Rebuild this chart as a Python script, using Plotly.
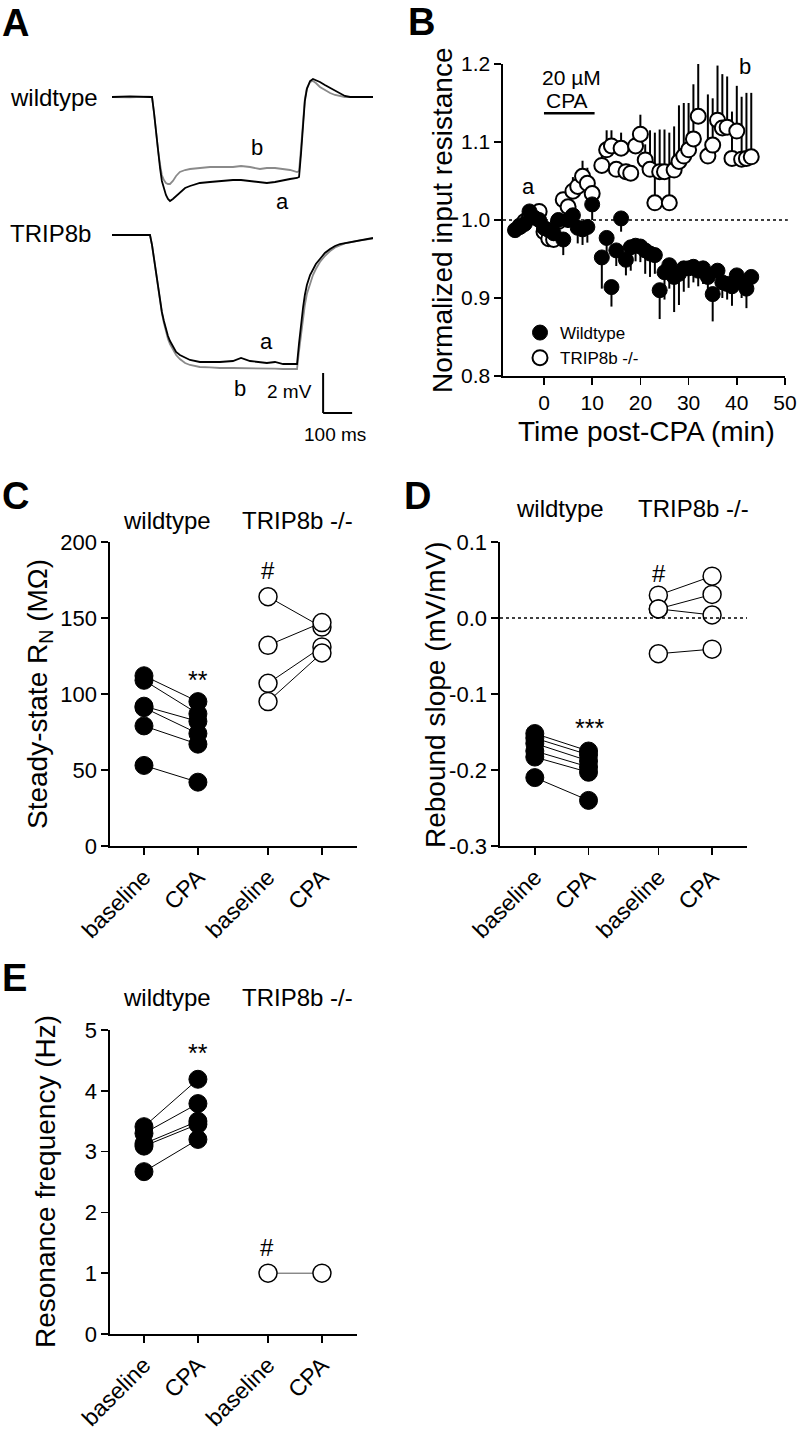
import plotly.graph_objects as go

W, H = 797, 1431
FONT = "Liberation Sans, Arial, sans-serif"

# ---------------- DATA ----------------
# Panel A: membrane-potential traces (time in ms, voltage in mV relative to baseline)
trace_t_ms = [0, 62, 131, 138, 145, 152, 159, 166, 172, 179, 186, 193, 200, 210, 221, 234, 252, 269,
              303, 338, 372, 417, 445, 476, 510, 534, 562, 590, 614, 638, 645, 652, 659, 665, 672,
              683, 693, 703, 717, 734, 752, 769, 786, 803, 821, 855, 900]
wt_a_mv = [0.0, 0.03, 0.0, 0.0, -0.8, -1.8, -2.8, -3.6, -4.2, -4.6, -4.9, -5.1, -5.2, -5.1, -4.95, -4.75,
           -4.55, -4.45, -4.3, -4.25, -4.2, -4.15, -4.15, -4.2, -4.25, -4.3, -4.25, -4.15, -4.1, -4.05,
           -4.0, -2.8, -1.2, -0.2, 0.4, 0.8, 0.9, 0.85, 0.75, 0.6, 0.45, 0.3, 0.15, 0.05, 0.0, 0.0, 0.0]
wt_b_mv = [0.0, -0.02, 0.02, 0.0, -0.8, -1.8, -2.7, -3.4, -3.9, -4.15, -4.3, -4.35, -4.35, -4.2, -3.95,
           -3.75, -3.65, -3.6, -3.55, -3.5, -3.5, -3.5, -3.45, -3.5, -3.6, -3.55, -3.55, -3.6, -3.65,
           -3.75, -3.7, -2.5, -1.0, -0.1, 0.45, 0.75, 0.8, 0.7, 0.5, 0.35, 0.2, 0.1, 0.05, 0.0, 0.0, 0.0, 0.0]
trip_a_mv = [0.0, 0.0, 0.0, -0.5, -1.2, -2.0, -2.8, -3.3, -3.85, -4.3, -4.75, -5.05, -5.3, -5.6, -5.85,
             -6.0, -6.15, -6.25, -6.35, -6.35, -6.35, -6.3, -6.15, -6.3, -6.35, -6.4, -6.35, -6.45, -6.45,
             -6.45, -5.4, -4.4, -3.6, -3.0, -2.5, -2.0, -1.7, -1.45, -1.2, -0.9, -0.7, -0.55, -0.45, -0.4,
             -0.35, -0.25, -0.15]
trip_b_mv = [0.0, 0.0, 0.0, -0.5, -1.2, -2.0, -2.8, -3.35, -3.9, -4.4, -4.85, -5.2, -5.45, -5.75, -6.0,
             -6.2, -6.4, -6.5, -6.6, -6.62, -6.65, -6.65, -6.65, -6.65, -6.65, -6.65, -6.68, -6.7, -6.7,
             -6.7, -5.8, -4.9, -4.1, -3.5, -2.95, -2.4, -2.0, -1.7, -1.35, -1.05, -0.8, -0.62, -0.5, -0.42,
             -0.37, -0.27, -0.18]
scale_mv = 2
scale_ms = 100

# Panel B: normalized input resistance vs time post-CPA (min)
wt_time = [-6, -5, -4, -3, -2, -1, 0, 1, 2, 3, 4, 5, 6, 7, 8, 9, 10, 12, 13, 14, 15, 16, 17, 18, 19, 20,
           21, 22, 23, 24, 25, 26, 27, 28, 29, 30, 31, 32, 33, 34, 35, 36, 37, 38, 39, 40, 41, 42, 43]
wt_norm = [0.987, 0.991, 0.995, 1.011, 1.003, 1.000, 0.990, 0.987, 0.983, 1.000, 0.975, 1.000, 1.006,
           0.990, 0.988, 0.991, 1.020, 0.952, 0.977, 0.914, 0.961, 1.002, 0.949, 0.965, 0.967, 0.966,
           0.961, 0.957, 0.955, 0.910, 0.933, 0.942, 0.927, 0.931, 0.938, 0.938, 0.940, 0.935, 0.938,
           0.927, 0.905, 0.935, 0.920, 0.918, 0.915, 0.929, 0.920, 0.912, 0.927]
wt_sem = [0.005, 0.005, 0.005, 0.006, 0.006, 0.006, 0.008, 0.008, 0.01, 0.01, 0.02, 0.01, 0.012, 0.02,
          0.02, 0.02, 0.02, 0.04, 0.02, 0.025, 0.02, 0.017, 0.02, 0.03, 0.02, 0.02, 0.03, 0.03, 0.024,
          0.037, 0.035, 0.03, 0.045, 0.04, 0.03, 0.025, 0.02, 0.02, 0.02, 0.025, 0.035, 0.015, 0.02,
          0.02, 0.025, 0.015, 0.02, 0.025, 0.012]
ko_time = [-5, -4, -3, -2, -1, 0, 1, 2, 3, 4, 5, 6, 7, 8, 9, 10, 12, 13, 14, 15, 16, 17, 18, 19, 20, 21,
           22, 23, 24, 25, 26, 27, 28, 29, 30, 31, 32, 34, 35, 36, 37, 38, 39, 40, 41, 42, 43]
ko_norm = [0.992, 0.998, 1.004, 1.008, 1.011, 0.985, 0.976, 0.975, 0.998, 1.026, 1.017, 1.037, 1.043,
           1.056, 1.047, 1.034, 1.070, 1.090, 1.095, 1.065, 1.092, 1.062, 1.060, 1.095, 1.110, 1.077,
           1.065, 1.022, 1.062, 1.062, 1.022, 1.064, 1.075, 1.082, 1.090, 1.104, 1.133, 1.082, 1.096,
           1.128, 1.118, 1.119, 1.079, 1.114, 1.078, 1.079, 1.081]
ko_sem = [0.004, 0.004, 0.006, 0.006, 0.006, 0.005, 0.005, 0.005, 0.005, 0.01, 0.01, 0.018, 0.02, 0.02,
          0.02, 0.01, 0.02, 0.025, 0.02, 0.01, 0.02, 0.01, 0.01, 0.015, 0.025, 0.02, 0.05, 0.09, 0.054,
          0.054, 0.09, 0.056, 0.072, 0.068, 0.06, 0.07, 0.067, 0.079, 0.06, 0.07, 0.069, 0.065, 0.06,
          0.058, 0.08, 0.084, 0.082]
cpa_start_min = 0
cpa_end_min = 10.5

# Panels C-E: paired cells
cond_labels = ["baseline", "CPA", "baseline", "CPA"]
groups = ["wildtype", "TRIP8b -/-"]

rn_wt_base = [112, 109, 92, 91, 79, 53]
rn_wt_cpa = [95, 87, 82, 74, 67, 42]
rn_ko_base = [164, 132, 107, 95]
rn_ko_cpa = [144, 147, 131, 127]

slope_wt_base = [-0.152, -0.158, -0.165, -0.175, -0.183, -0.210]
slope_wt_cpa = [-0.175, -0.180, -0.188, -0.196, -0.203, -0.240]
slope_ko_base = [0.030, 0.012, 0.012, -0.047]
slope_ko_cpa = [0.055, 0.031, 0.004, -0.041]

fr_wt_base = [3.41, 3.30, 3.13, 3.09, 2.67]
fr_wt_cpa = [4.19, 3.79, 3.50, 3.45, 3.20]
fr_ko_base = [1.0]
fr_ko_cpa = [1.0]

# ---------------- LAYOUT HELPERS ----------------
def px_x(p):
    return p / W


def px_y(p):
    return 1 - p / H


cond_pos = [1, 2, 3.3, 4.3]


def pairs(base, cpa, x0, x1):
    xs, ys = [], []
    for b, c in zip(base, cpa):
        xs += [x0, x1, None]
        ys += [b, c, None]
    return xs, ys


fig = go.Figure()

# Panel A traces
for ys, col, ax in [(wt_b_mv, "#8a8a8a", 1), (wt_a_mv, "black", 1),
                    (trip_b_mv, "#8a8a8a", 2), (trip_a_mv, "black", 2)]:
    fig.add_trace(go.Scatter(x=trace_t_ms, y=ys, mode="lines", line=dict(color=col, width=1.8),
                             xaxis="x" if ax == 1 else "x2", yaxis="y" if ax == 1 else "y2",
                             showlegend=False, hoverinfo="skip"))

# Panel B
fig.add_trace(go.Scatter(
    x=ko_time, y=ko_norm, mode="markers", name="TRIP8b -/-",
    marker=dict(symbol="circle", size=15, color="white", line=dict(color="black", width=2)),
    error_y=dict(type="data", symmetric=False, array=ko_sem, arrayminus=[0] * len(ko_sem),
                 color="black", thickness=2, width=0),
    xaxis="x3", yaxis="y3", legendrank=2))
fig.add_trace(go.Scatter(
    x=wt_time, y=wt_norm, mode="markers", name="Wildtype",
    marker=dict(symbol="circle", size=15, color="black", line=dict(color="black", width=1)),
    error_y=dict(type="data", symmetric=False, array=[0] * len(wt_sem), arrayminus=wt_sem,
                 color="black", thickness=2, width=0),
    xaxis="x3", yaxis="y3", legendrank=1))

# Panels C-E
panel_sets = [
    ("x4", "y4", rn_wt_base, rn_wt_cpa, rn_ko_base, rn_ko_cpa, "black"),
    ("x5", "y5", slope_wt_base, slope_wt_cpa, slope_ko_base, slope_ko_cpa, "black"),
    ("x6", "y6", fr_wt_base, fr_wt_cpa, fr_ko_base, fr_ko_cpa, "#555555"),
]
for xa, ya, wb, wc, kb, kc, kline in panel_sets:
    xs, ys = pairs(wb, wc, cond_pos[0], cond_pos[1])
    fig.add_trace(go.Scatter(x=xs, y=ys, mode="lines+markers", line=dict(color="black", width=1),
                             marker=dict(size=18, color="black", line=dict(color="black", width=1)),
                             xaxis=xa, yaxis=ya, showlegend=False, hoverinfo="skip"))
    xs, ys = pairs(kb, kc, cond_pos[2], cond_pos[3])
    fig.add_trace(go.Scatter(x=xs, y=ys, mode="lines+markers", line=dict(color=kline, width=1),
                             marker=dict(size=18, color="white", line=dict(color="black", width=1.5)),
                             xaxis=xa, yaxis=ya, showlegend=False, hoverinfo="skip"))

axis_style = dict(showline=True, linecolor="black", linewidth=1.6, ticks="outside", ticklen=7,
                  tickwidth=1.6, tickcolor="black", showgrid=False, zeroline=False, automargin=False,
                  tickfont=dict(family=FONT, size=22, color="black"), fixedrange=True)
cat_style = dict(axis_style, tickfont=dict(family=FONT, size=23, color="black"))
b_style = dict(axis_style, tickfont=dict(family=FONT, size=21, color="black"))
hidden = dict(visible=False, fixedrange=True, automargin=False)

layout = dict(
    width=W, height=H, margin=dict(l=0, r=0, t=0, b=0, pad=0, autoexpand=False),
    paper_bgcolor="white", plot_bgcolor="white",
    font=dict(family=FONT, color="black"),
    xaxis=dict(domain=[px_x(112), px_x(373)], range=[0, 900], anchor="y", **hidden),
    yaxis=dict(domain=[px_y(215), px_y(60)], range=[-5.9, 1.85], anchor="x", **hidden),
    xaxis2=dict(domain=[px_x(112), px_x(373)], range=[0, 900], anchor="y2", **hidden),
    yaxis2=dict(domain=[px_y(420), px_y(215)], range=[-9.25, 1.0], anchor="x2", **hidden),
    xaxis3=dict(domain=[px_x(503), px_x(785)], range=[-8.5, 50], anchor="y3",
                tickvals=[0, 10, 20, 30, 40, 50], **b_style),
    yaxis3=dict(domain=[px_y(376), px_y(64)], range=[0.8, 1.2], anchor="x3",
                tickvals=[0.8, 0.9, 1.0, 1.1, 1.2], tickformat=".1f", **b_style),
    xaxis4=dict(domain=[px_x(110), px_x(357)], range=[0.37, 4.95], anchor="y4",
                tickvals=cond_pos, ticktext=cond_labels, tickangle=-45, **cat_style),
    yaxis4=dict(domain=[px_y(846), px_y(542)], range=[0, 200], anchor="x4",
                tickvals=[0, 50, 100, 150, 200], **axis_style),
    xaxis5=dict(domain=[px_x(500), px_x(747)], range=[0.352, 4.95], anchor="y5",
                tickvals=cond_pos, ticktext=cond_labels, tickangle=-45, **cat_style),
    yaxis5=dict(domain=[px_y(846), px_y(542)], range=[-0.3, 0.1], anchor="x5",
                tickvals=[-0.3, -0.2, -0.1, 0.0, 0.1],
                ticktext=["-0.3", "-0.2", "-0.1", "0.0", "0.1"], **axis_style),
    xaxis6=dict(domain=[px_x(110), px_x(357)], range=[0.37, 4.95], anchor="y6",
                tickvals=cond_pos, ticktext=cond_labels, tickangle=-45, **cat_style),
    yaxis6=dict(domain=[px_y(1334), px_y(1030)], range=[0, 5], anchor="x6",
                tickvals=[0, 1, 2, 3, 4, 5], **axis_style),
    showlegend=True,
    legend=dict(x=px_x(520), y=px_y(315), xanchor="left", yanchor="top",
                bgcolor="rgba(0,0,0,0)", font=dict(family=FONT, size=17, color="black"),
                itemsizing="trace", tracegroupgap=0),
)
fig.update_layout(**layout)

# Shapes: scale bar (panel A), CPA bar and dotted reference lines
shapes = [
    dict(type="line", xref="x2", yref="y2", x0=728, x1=728, y0=-6.9, y1=-6.9 - scale_mv,
         line=dict(color="black", width=2)),
    dict(type="line", xref="x2", yref="y2", x0=728, x1=728 + scale_ms, y0=-6.9 - scale_mv,
         y1=-6.9 - scale_mv, line=dict(color="black", width=2)),
    dict(type="line", xref="x3", yref="y3", x0=cpa_start_min, x1=cpa_end_min, y0=1.137, y1=1.137,
         line=dict(color="black", width=2.5)),
    dict(type="line", xref="x3 domain", yref="y3", x0=0, x1=1.01, y0=1.0, y1=1.0,
         line=dict(color="black", width=1.5, dash="dot")),
    dict(type="line", xref="x5 domain", yref="y5", x0=0, x1=1.0, y0=0.0, y1=0.0,
         line=dict(color="black", width=1.5, dash="dot")),
]
fig.update_layout(shapes=shapes)

ann = []


def text(x, y, s, size=22, xanchor="center", yanchor="middle", angle=0, bold=False):
    ann.append(dict(x=px_x(x), y=px_y(y), xref="paper", yref="paper", text=f"<b>{s}</b>" if bold else s,
                    showarrow=False, xanchor=xanchor, yanchor=yanchor, textangle=angle,
                    font=dict(family=FONT, size=size, color="black")))


# panel letters
text(0, 23, "A", 38, "left", bold=True)
text(406, 22, "B", 38, "left", bold=True)
text(0, 496, "C", 38, "left", bold=True)
text(402, 496, "D", 38, "left", bold=True)
text(0, 978, "E", 38, "left", bold=True)

# Panel A labels
text(8, 97, "wildtype", 24, "left")
text(8, 233, "TRIP8b", 24, "left")
text(257, 148, "b", 22)
text(282, 202, "a", 22)
text(266, 342, "a", 22)
text(240, 388, "b", 22)
text(289, 392, "2 mV", 19)
text(335, 434, "100 ms", 19)

# Panel B labels
text(571, 77, "20 µM", 21)
text(567, 100, "CPA", 21)
text(528, 187, "a", 22)
text(745, 67, "b", 22)
text(443, 220, "Normalized input resistance", 28, angle=-90)
text(646, 431, "Time post-CPA (min)", 28)

# Panels C-E group labels and stats
for cx, cy in [(167, 520), (560, 508), (167, 997)]:
    text(cx, cy, groups[0], 24)
for cx, cy in [(297, 520), (693, 508), (297, 997)]:
    text(cx, cy, groups[1], 24)

text(198, 680, "**", 25)
text(268, 570, "#", 24)
text(589, 728, "***", 25)
text(659, 573, "#", 24)
text(198, 1053, "**", 25)
text(267, 1247, "#", 24)

text(40, 694, "Steady-state R<sub>N</sub> (MΩ)", 28, angle=-90)
text(436, 694, "Rebound slope (mV/mV)", 28, angle=-90)
text(45, 1182, "Resonance frequency (Hz)", 28, angle=-90)

fig.update_layout(annotations=ann)
fig.write_html("out.html", config={"displayModeBar": False, "staticPlot": True},
               post_script="document.body.style.margin='0';document.body.style.overflow='hidden';")
